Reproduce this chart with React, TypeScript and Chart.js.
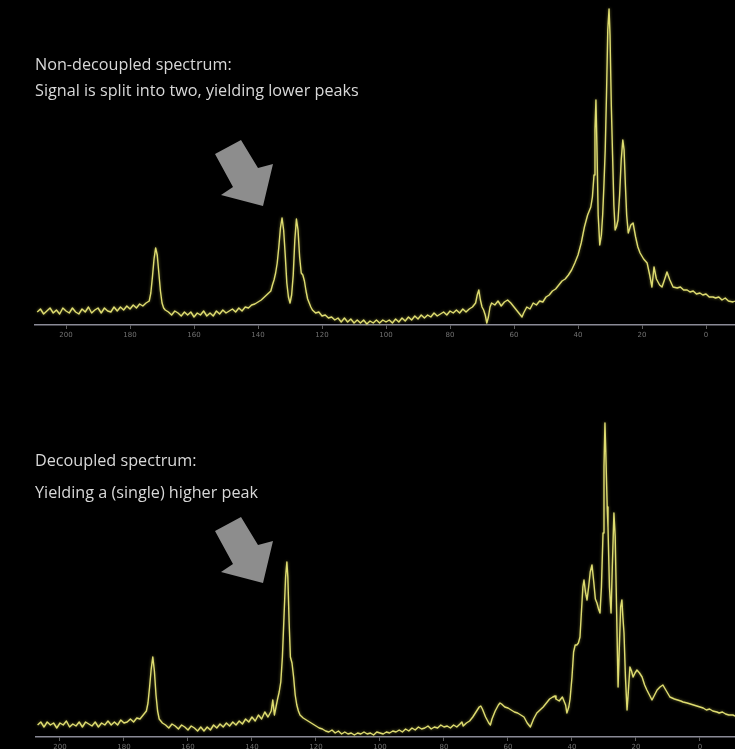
import React, { useEffect, useRef } from "react";
import { Chart, registerables } from "chart.js";

Chart.register(...registerables);

// chemical shift tick labels (ppm)
const tickValues = [200, 180, 160, 140, 120, 100, 80, 60, 40, 20, 0];

// Non-decoupled spectrum: [ppm, intensity]
const topSpectrum: [number, number][] = [
  [209,13],[208,16],[207,11],[206,14],[205,17],[204,12],[203,15],[202,11],[201,17],[200,14],[199,12],[198,17],[197,13],[196,11],[195,16],[194,13],[193,18],[192,12],[191,15],[190,17],[189,12],[188,17],[187,14],[186,13],[185,18],[184,14],[183,18],[182,15],[181,19],[180,16],[179,20],[178,17],[177,21],[176,19],[175,22],[174,24],[173.5,32],[173,48],[172.5,66],[172,77],[171.5,70],[171,52],[170.5,34],[170,22],[169.5,17],[169,15],[168,13],[167,10],[166,14],[165,12],[164,9],[163,13],[162,10],[161,13],[160,8],[159,12],[158,10],[157,14],[156,9],[155,12],[154,9],[153,14],[152,11],[151,15],[150,12],[149,14],[148,16],[147,13],[146,17],[145,14],[144,18],[143,17],[142,20],[141,21],[140,23],[139,25],[138,28],[137,31],[136,34],[135.5,40],[135,45],[134.5,52],[134,62],[133.5,78],[133,97],[132.5,107],[132,95],[131.5,70],[131,42],[130.5,28],[130,22],[129.5,30],[129,50],[128.5,85],[128,106],[127.5,95],[127,68],[126.5,52],[126,50],[125.5,44],[125,34],[124.5,26],[124,22],[123.5,18],[123,15],[122,12],[121,13],[120,9],[119,10],[118,7],[117,8],[116,5],[115,7],[114,3],[113,7],[112,3],[111,6],[110,2],[109,5],[108,2],[107,5],[106,1],[105,4],[104,2],[103,5],[102,2],[101,5],[100,3],[99,5],[98,2],[97,6],[96,3],[95,7],[94,4],[93,8],[92,5],[91,9],[90,6],[89,10],[88,7],[87,10],[86,8],[85,12],[84,9],[83,11],[82,13],[81,10],[80,14],[79,12],[78,15],[77,12],[76,16],[75,13],[74,16],[73,18],[72,22],[71.5,30],[71,35],[70.5,25],[70,18],[69.5,15],[69,10],[68.5,2],[68,8],[67.5,18],[67,22],[66,20],[65,24],[64,19],[63,23],[62,25],[61,22],[60,18],[59,14],[58,10],[57.5,8],[57,12],[56,18],[55,16],[54,22],[53,20],[52,24],[51,23],[50,28],[49,30],[48,34],[47,36],[46,40],[45,44],[44,46],[43,50],[42,55],[41,62],[40,70],[39.5,76],[39,82],[38.5,90],[38,98],[37.5,104],[37,110],[36.5,114],[36,118],[35.5,128],[35,150],[34.7,195],[34.4,225],[34.1,180],[33.7,110],[33.2,80],[32.7,90],[32.3,110],[31.9,140],[31.5,175],[31.1,230],[30.7,295],[30.3,316],[30,290],[29.6,220],[29.2,170],[28.8,120],[28.4,95],[28,98],[27.5,105],[27,130],[26.5,165],[26,185],[25.6,175],[25.2,140],[24.8,110],[24.3,92],[23.5,100],[22.8,102],[22,88],[21.3,78],[20.6,72],[19.5,66],[18.4,62],[17.6,50],[16.9,38],[16.25,58],[15.5,46],[14.5,40],[13.75,38],[13,45],[12.2,53],[11.3,45],[10.3,38],[9,37],[8,38],[7,35],[5.9,35],[5,33],[4,34],[3,31],[1.9,32],[1,30],[0,31],[-1,28],[-2.2,28],[-3,27],[-4,28],[-5,25],[-6,27],[-7,24],[-8.4,23],[-9,24]
];

// Decoupled spectrum: [ppm, intensity]
const bottomSpectrum: [number, number][] = [
  [207,12],[206,15],[205,10],[204,15],[203,12],[202,14],[201,9],[200,14],[199,12],[198,16],[197,10],[196,13],[195,11],[194,15],[193,10],[192,15],[191,13],[190,11],[189,15],[188,10],[187,14],[186,12],[185,16],[184,12],[183,15],[182,12],[181,17],[180,14],[179,15],[178,18],[177,15],[176,19],[175,18],[174,22],[173,26],[172.5,34],[172,50],[171.5,68],[171,80],[170.5,66],[170,42],[169.5,26],[169,18],[168,14],[167,12],[166,9],[165,13],[164,11],[163,8],[162,12],[161,10],[160,7],[159,11],[158,9],[157,6],[156,10],[155,6],[154,10],[153,7],[152,12],[151,9],[150,13],[149,10],[148,14],[147,11],[146,15],[145,12],[144,16],[143,13],[142,18],[141,15],[140,20],[139,16],[138,22],[137,18],[136,25],[135,20],[134,26],[133.5,37],[133,22],[132.5,30],[132,38],[131.5,45],[131,55],[130.5,80],[130,120],[129.5,160],[129.1,175],[128.8,160],[128.4,115],[128,80],[127.5,74],[127,60],[126.5,42],[126,32],[125.5,26],[125,22],[124,19],[123,17],[122,15],[121,13],[120,11],[119,9],[118,8],[117,6],[116,5],[115,7],[114,4],[113,6],[112,3],[111,5],[110,3],[109,4],[108,2],[107,4],[106,3],[105,5],[104,3],[103,4],[102,2],[101,5],[100,4],[99,3],[98,5],[97,4],[96,6],[95,5],[94,7],[93,5],[92,8],[91,6],[90,9],[89,7],[88,10],[87,8],[86,9],[85,11],[84,8],[83,10],[82,9],[81,12],[80,10],[79,11],[78,9],[77,12],[76,10],[75,13],[74.4,15],[74,11],[73,14],[72,16],[71,20],[70,25],[69,30],[68.5,31],[68,28],[67,20],[66,14],[65.5,12],[65,18],[64,26],[63,32],[62.5,34],[62,33],[61,30],[60,29],[59,27],[58,25],[57,24],[56,22],[55,20],[54,14],[53,10],[52,18],[51,24],[50,27],[49,30],[48,34],[47,38],[46,40],[45.3,41],[45,38],[44,36],[43,40],[42,32],[41.6,24],[41,30],[40.6,38],[40,60],[39.5,85],[39,92],[38.5,92],[38,94],[37.5,100],[37,128],[36.6,150],[36.25,157],[35.8,145],[35.3,137],[34.8,150],[34.3,165],[33.75,172],[33.2,155],[32.7,138],[32.2,134],[31.7,128],[31.25,124],[30.8,150],[30.3,204],[30,270],[29.7,314],[29.4,280],[29,230],[28.75,210],[28.3,150],[27.8,124],[27.4,170],[26.9,224],[26.5,200],[26.2,150],[25.9,100],[25.6,50],[25.2,90],[24.8,130],[24.4,137],[24.1,120],[23.75,104],[23.3,60],[22.8,27],[22.4,45],[21.9,70],[21.4,66],[20.9,60],[20.3,64],[19.7,67],[18.9,64],[18.1,60],[17.3,52],[16.6,47],[15.8,42],[15,37],[14.2,42],[13.4,47],[12.5,50],[11.6,52],[10.5,46],[9.4,40],[8,38],[7,37],[6,36],[5.3,35],[4,34],[3,33],[2,32],[1,31],[0,30],[-1,29],[-2,27],[-3,28],[-4,26],[-5.3,25],[-6,24],[-7,25],[-8,23],[-9,22],[-10.3,22],[-11,21]
];

const topLabels = ["Non-decoupled spectrum:", "Signal is split into two, yielding lower peaks"];
const bottomLabels = ["Decoupled spectrum:", "Yielding a (single) higher peak"];

const arrowShape: [number, number][] = [[-48,-52],[-22,-66],[-5,-38],[10,-42],[0,0],[-42,-11],[-30,-19]];

type Props = {
  data: [number, number][];
  xMin: number;
  xMax: number;
  padLeft: number;
  width: number;
  height: number;
  axisHeight: number;
  yMax: number;
  arrowTip: [number, number];
};

function SpectrumChart({ data, xMin, xMax, padLeft, width, height, axisHeight, yMax, arrowTip }: Props) {
  const ref = useRef<HTMLCanvasElement>(null);
  useEffect(() => {
    if (!ref.current) return;
    const arrowPlugin = {
      id: "arrowAnnot",
      beforeDatasetsDraw(chart: any) {
        const ctx = chart.ctx;
        ctx.save();
        ctx.shadowColor = "rgba(210,205,90,0.55)";
        ctx.shadowBlur = 3;
      },
      afterDatasetsDraw(chart: any) {
        chart.ctx.restore();
      },
      afterDraw(chart: any) {
        const ctx = chart.ctx;
        ctx.save();
        ctx.fillStyle = "#8d8d8d";
        ctx.beginPath();
        arrowShape.forEach(([dx, dy], i) => {
          const x = arrowTip[0] + dx;
          const y = arrowTip[1] + dy;
          if (i === 0) ctx.moveTo(x, y);
          else ctx.lineTo(x, y);
        });
        ctx.closePath();
        ctx.fill();
        ctx.restore();
      },
    };
    const chart = new Chart(ref.current, {
      type: "line",
      data: {
        datasets: [
          {
            data: data.map(([x, y]) => ({ x, y })),
            borderColor: "rgb(222,220,112)",
            borderWidth: 1.4,
            pointRadius: 0,
            tension: 0,
            clip: false as any,
            borderJoinStyle: "round",
          },
        ],
      },
      options: {
        animation: false,
        responsive: false,
        events: [],
        layout: { padding: { left: padLeft, right: 0, top: 0, bottom: 0 } },
        plugins: { legend: { display: false }, tooltip: { enabled: false } },
        scales: {
          x: {
            type: "linear",
            reverse: true,
            min: xMin,
            max: xMax,
            afterBuildTicks: (s: any) => {
              s.ticks = tickValues.map((v) => ({ value: v }));
            },
            afterFit: (s: any) => {
              s.height = axisHeight;
            },
            ticks: {
              color: "#727272",
              font: { size: 7, family: "DejaVu Sans" },
              padding: 2,
              maxRotation: 0,
              autoSkip: false,
            },
            grid: { drawOnChartArea: false, drawTicks: true, tickLength: 4, color: "#5e5e5e" },
            border: { display: true, color: "#8a8a96", width: 1.5 },
          },
          y: { display: false, min: 0, max: yMax },
        },
      },
      plugins: [arrowPlugin],
    } as any);
    return () => chart.destroy();
  }, []);
  return <canvas ref={ref} width={width} height={height} style={{ display: "block" }} />;
}

const textStyle: React.CSSProperties = {
  position: "absolute",
  left: 35,
  color: "#d8d8d8",
  fontFamily: "'Open Sans', sans-serif",
  fontSize: 16.2,
  lineHeight: 1,
  whiteSpace: "nowrap",
};

export default function App() {
  useEffect(() => {
    document.body.style.margin = "0";
    document.body.style.background = "#000";
  }, []);
  return (
    <div style={{ position: "fixed", left: 0, top: 0, width: 735, height: 749, background: "#000", overflow: "hidden" }}>
      <div style={{ position: "absolute", left: 0, top: 0 }}>
        <SpectrumChart data={topSpectrum} xMin={-9.06} xMax={209.7} padLeft={35} width={735} height={372} axisHeight={47} yMax={325} arrowTip={[263, 206]} />
      </div>
      <div style={{ position: "absolute", left: 0, top: 372 }}>
        <SpectrumChart data={bottomSpectrum} xMin={-10.94} xMax={207.5} padLeft={36} width={735} height={377} axisHeight={12} yMax={365} arrowTip={[263, 211]} />
      </div>
      <div style={{ ...textStyle, top: 56 }}>{topLabels[0]}</div>
      <div style={{ ...textStyle, top: 82 }}>{topLabels[1]}</div>
      <div style={{ ...textStyle, top: 452 }}>{bottomLabels[0]}</div>
      <div style={{ ...textStyle, top: 484 }}>{bottomLabels[1]}</div>
    </div>
  );
}
